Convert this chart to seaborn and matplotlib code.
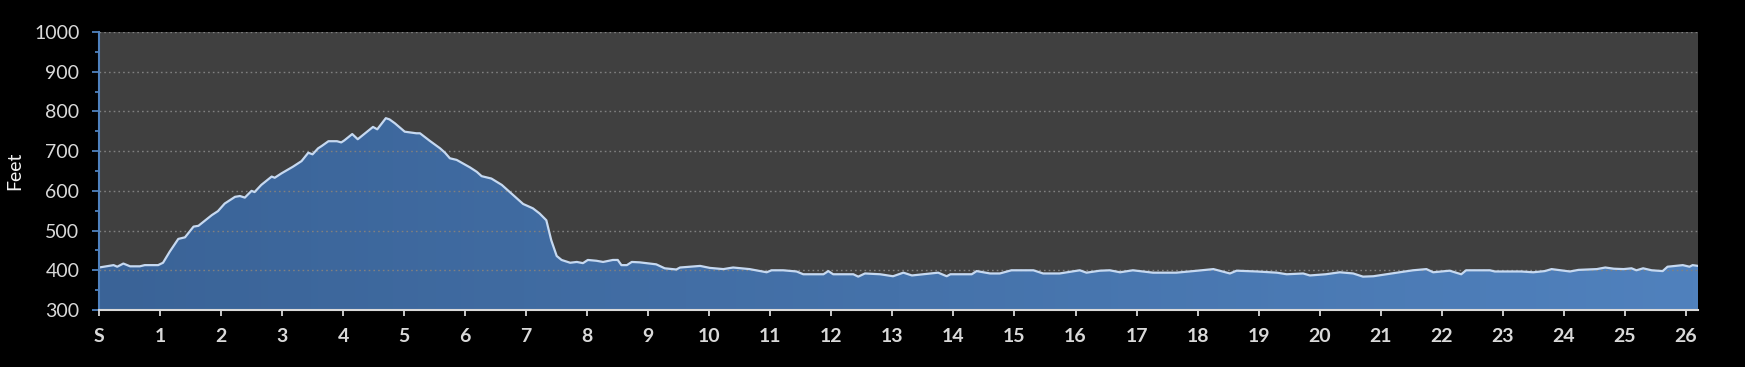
import numpy as np
import matplotlib
matplotlib.use('Agg')
import matplotlib.pyplot as plt
import seaborn as sns
from matplotlib.colors import LinearSegmentedColormap

# Elevation profile (mile, feet)
miles = [0.0, 0.24, 0.3, 0.4, 0.51, 0.67, 0.75, 0.97, 1.05, 1.16, 1.3, 1.41, 1.55, 1.63,
         1.85, 1.95, 2.06, 2.23, 2.31, 2.39, 2.5, 2.55, 2.66, 2.83, 2.88, 2.99, 3.18, 3.32,
         3.43, 3.5, 3.59, 3.65, 3.76, 3.9, 3.97, 4.02, 4.15, 4.24, 4.36, 4.49, 4.56, 4.7,
         4.76, 4.85, 5.01, 5.2, 5.26, 5.42, 5.59, 5.67, 5.75, 5.86, 6.08, 6.19, 6.27, 6.43,
         6.6, 6.79, 6.95, 7.11, 7.22, 7.33, 7.41, 7.5, 7.58, 7.72, 7.83, 7.93, 8.01, 8.15,
         8.26, 8.42, 8.5, 8.56, 8.65, 8.73, 8.86, 9.13, 9.27, 9.46, 9.52, 9.85, 10.01,
         10.23, 10.39, 10.66, 10.94, 11.02, 11.21, 11.43, 11.54, 11.87, 11.95, 12.03,
         12.36, 12.44, 12.55, 12.8, 13.01, 13.18, 13.32, 13.51, 13.75, 13.89, 13.95,
         14.3, 14.38, 14.6, 14.76, 14.95, 15.31, 15.47, 15.74, 16.07, 16.18, 16.4, 16.56,
         16.73, 16.94, 17.27, 17.65, 17.93, 18.26, 18.53, 18.64, 18.97, 19.3, 19.46,
         19.73, 19.84, 20.1, 20.33, 20.55, 20.71, 20.88, 21.09, 21.31, 21.53, 21.75,
         21.86, 22.13, 22.32, 22.4, 22.79, 22.87, 23.3, 23.5, 23.69, 23.8, 24.1, 24.24,
         24.54, 24.68, 24.82, 24.98, 25.11, 25.19, 25.3, 25.44, 25.62, 25.7, 25.95,
         26.06, 26.11, 26.2]
feet = [407, 413, 409, 417, 410, 410, 413, 413, 419, 447, 479, 483, 510, 512,
        539, 549, 568, 585, 587, 583, 600, 597, 615, 636, 633, 644, 661, 675,
        696, 692, 707, 713, 725, 725, 722, 727, 743, 730, 745, 761, 755, 783,
        780, 770, 749, 745, 745, 726, 707, 696, 682, 678, 659, 648, 637, 631,
        615, 589, 567, 556, 543, 526, 476, 436, 426, 419, 421, 418, 426, 424,
        421, 426, 426, 413, 413, 421, 420, 415, 405, 402, 407, 411, 406,
        403, 407, 403, 395, 400, 400, 397, 390, 390, 398, 390,
        390, 384, 392, 390, 385, 394, 387, 390, 394, 385, 390,
        390, 398, 392, 392, 400, 400, 392, 392, 400, 394, 399, 400,
        395, 400, 394, 394, 398, 403, 392, 399, 397, 394, 390,
        392, 387, 390, 395, 392, 384, 385, 390, 395, 400, 403,
        395, 399, 390, 400, 400, 397, 397, 395, 398, 403, 397, 401,
        403, 407, 404, 403, 405, 400, 405, 400, 398, 409, 413,
        409, 413, 411]

x_ticks = list(range(0, 27))
x_labels = ['S'] + [str(i) for i in range(1, 27)]
y_ticks = [300, 400, 500, 600, 700, 800, 900, 1000]

plt.rcParams['font.family'] = ['Lato', 'DejaVu Sans']

fig = plt.figure(figsize=(17.45, 3.67), dpi=100, facecolor='black')
ax = fig.add_axes([0.0567, 0.1553, 0.9164, 0.7575])
ax.set_facecolor('#404040')

# gradient filled area under the profile
fill = ax.fill_between(miles, feet, 300, color='none', lw=0)
grad = LinearSegmentedColormap.from_list('g', ['#3a6397', '#5081bd'])
img = ax.imshow(np.linspace(0, 1, 256).reshape(1, -1), cmap=grad, aspect='auto',
                extent=[0, 26.2, 300, 1000], zorder=1)
img.set_clip_path(fill.get_paths()[0], transform=ax.transData)

sns.lineplot(x=miles, y=feet, ax=ax, color='#c6d9f1', lw=1.6, zorder=3)

ax.set_xlim(0, 26.2)
ax.set_ylim(300, 1000)
ax.set_xticks(x_ticks)
ax.set_xticklabels(x_labels, fontweight='bold', fontsize=14, color='#d9d9d9')
ax.set_yticks(y_ticks)
ax.set_yticks(np.arange(350, 1000, 100), minor=True)
ax.tick_params(axis='y', which='major', colors='#4f81bd', length=5, width=1.3,
               labelcolor='#d9d9d9', labelsize=14, pad=9)
ax.tick_params(axis='y', which='minor', colors='#4f81bd', length=3, width=1.3)
ax.tick_params(axis='x', colors='#d9d9d9', length=4, width=1.3, pad=9)

for y in y_ticks[1:]:
    ax.axhline(y, color='#808080', lw=1, ls=(0, (1.2, 2.2)), zorder=2)

for s in ['top', 'right']:
    ax.spines[s].set_visible(False)
ax.spines['left'].set_color('#4f81bd')
ax.spines['left'].set_linewidth(1.5)
ax.spines['bottom'].set_color('#d9d9d9')
ax.spines['bottom'].set_linewidth(1.5)
ax.spines['left'].set_zorder(4)
ax.spines['bottom'].set_zorder(4)

ax.set_ylabel('Feet', color='#f2f2f2', fontsize=14, labelpad=8)
ax.set_xlabel('')

fig.savefig('out.png', dpi=100, facecolor='black')
